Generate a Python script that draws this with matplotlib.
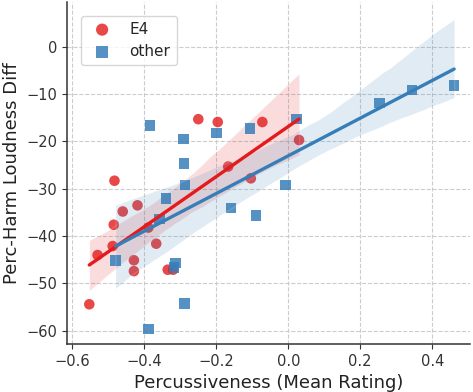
import matplotlib
matplotlib.use("Agg")
import matplotlib.pyplot as plt
import seaborn as sns

# E4 group
e4_x = [-0.553, -0.530, -0.488, -0.485, -0.483, -0.460, -0.429, -0.429, -0.419, -0.389,
        -0.367, -0.335, -0.320, -0.250, -0.196, -0.167, -0.104, -0.072, 0.030]
e4_y = [-54.4, -44.0, -42.1, -37.6, -28.3, -34.8, -45.1, -47.4, -33.5, -38.2,
        -41.6, -47.1, -47.1, -15.3, -15.9, -25.3, -27.8, -15.9, -19.7]

# other group
other_x = [-0.480, -0.389, -0.384, -0.358, -0.340, -0.318, -0.314, -0.291, -0.290, -0.287,
           -0.288, -0.199, -0.159, -0.106, -0.090, -0.007, 0.023, 0.253, 0.344, 0.461]
other_y = [-45.2, -59.6, -16.6, -36.4, -32.0, -46.6, -45.7, -19.5, -24.7, -29.2,
           -54.3, -18.2, -34.1, -17.3, -35.7, -29.2, -15.3, -11.9, -9.1, -8.2]

red = "#e41a1c"
blue = "#377eb8"

sns.set_style("ticks")
fig = plt.figure(figsize=(4.73, 3.92), dpi=100)
ax = fig.add_axes([0.1416, 0.1224, 0.852, 0.873])

sns.regplot(x=e4_x, y=e4_y, ax=ax, color=red, marker="o", seed=0,
            scatter_kws={"s": 58, "alpha": 0.8, "edgecolor": "none"},
            line_kws={"lw": 2.4}, label="E4")
sns.regplot(x=other_x, y=other_y, ax=ax, color=blue, marker="s", seed=0,
            scatter_kws={"s": 58, "alpha": 0.85, "edgecolor": "none"},
            line_kws={"lw": 2.4}, label="other")

ax.set_xlim(-0.615, 0.505)
ax.set_ylim(-62.8, 9.5)
ax.set_xticks([-0.6, -0.4, -0.2, 0.0, 0.2, 0.4])
ax.set_yticks([-60, -50, -40, -30, -20, -10, 0])
ax.grid(True, linestyle="--", color="#cccccc", lw=0.8)
ax.set_axisbelow(True)
ax.tick_params(labelsize=10.5, color="#333333", labelcolor="#333333")
for s in ["left", "bottom"]:
    ax.spines[s].set_color("#333333")
    ax.spines[s].set_linewidth(1.1)
sns.despine(ax=ax)

ax.set_xlabel("Percussiveness (Mean Rating)", fontsize=13, color="#222222")
ax.set_ylabel("Perc-Harm Loudness Diff", fontsize=13, color="#222222")
ax.legend(loc="upper left", fontsize=11, frameon=True, markerscale=1.15,
          borderaxespad=0.9)

fig.savefig("out.png", dpi=100)
